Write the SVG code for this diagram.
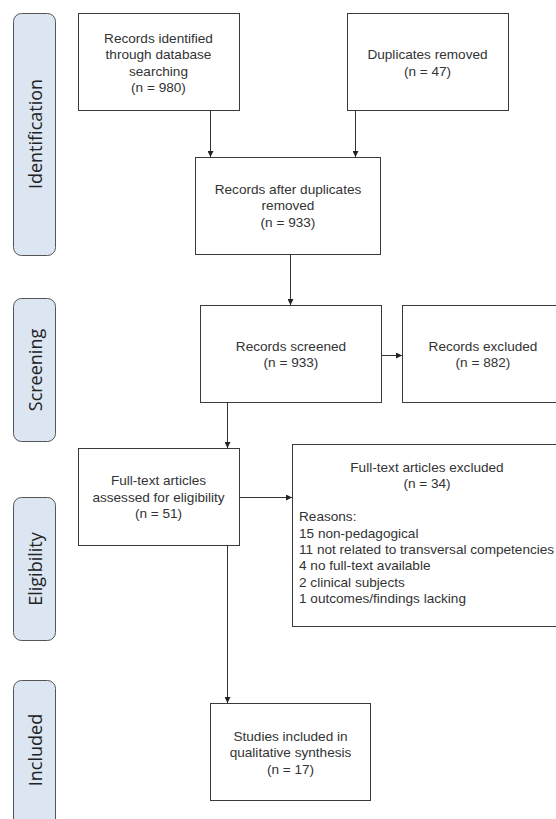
<svg xmlns="http://www.w3.org/2000/svg" width="556" height="819" viewBox="0 0 556 819">
<style>
.box{fill:#fff;stroke:#3a3a3a;stroke-width:1}
.pill{fill:#dce6f2;stroke:#555;stroke-width:1}
.t{font-family:"Liberation Sans",Arial,sans-serif;font-size:13.6px;fill:#333;text-anchor:middle;dominant-baseline:central}
.l{font-family:"Liberation Sans",Arial,sans-serif;font-size:13.6px;fill:#333;dominant-baseline:central}
.p{font-family:"Open Sans","Noto Sans",sans-serif;font-size:18px;fill:#222;text-anchor:middle;dominant-baseline:central}
.c{stroke:#333;stroke-width:1;fill:none;marker-end:url(#ah)}
</style>
<defs>
<marker id="ah" markerWidth="6" markerHeight="6" refX="6" refY="3" orient="auto" markerUnits="userSpaceOnUse">
<path d="M0,0 L6,3 L0,6 Z" fill="#222"/>
</marker>
</defs>
<g id="phase-identification"><rect class="pill" x="13.5" y="13.5" width="42" height="242" rx="8"/><text class="p" transform="translate(35,134) rotate(-90)">Identification</text></g>
<g id="phase-screening"><rect class="pill" x="13.5" y="298.5" width="42" height="143" rx="8"/><text class="p" transform="translate(35,370) rotate(-90)">Screening</text></g>
<g id="phase-eligibility"><rect class="pill" x="13.5" y="497.5" width="42" height="143" rx="8"/><text class="p" transform="translate(35,569) rotate(-90)">Eligibility</text></g>
<g id="phase-included"><rect class="pill" x="13.5" y="680.5" width="42" height="160" rx="8"/><text class="p" transform="translate(35,750) rotate(-90)">Included</text></g>

<g id="records-identified"><rect class="box" x="78.5" y="13.5" width="161" height="97"/>
<text class="t" x="158.5" y="38">Records identified</text><text class="t" x="158.5" y="54.5">through database</text><text class="t" x="158.5" y="71">searching</text><text class="t" x="158.5" y="87.5">(n = 980)</text></g>
<g id="duplicates-removed"><rect class="box" x="347.5" y="13.5" width="161" height="97"/>
<text class="t" x="427.5" y="54">Duplicates removed</text><text class="t" x="427.5" y="71">(n = 47)</text></g>
<g id="records-after-duplicates"><rect class="box" x="195.5" y="157.5" width="185" height="97"/>
<text class="t" x="288" y="189">Records after duplicates</text><text class="t" x="288" y="205.5">removed</text><text class="t" x="288" y="222">(n = 933)</text></g>
<g id="records-screened"><rect class="box" x="200.5" y="305.5" width="181" height="97"/>
<text class="t" x="291" y="346">Records screened</text><text class="t" x="291" y="362.5">(n = 933)</text></g>
<g id="records-excluded"><rect class="box" x="402.5" y="305.5" width="160" height="97"/>
<text class="t" x="483" y="346">Records excluded</text><text class="t" x="483" y="362.5">(n = 882)</text></g>
<g id="fulltext-assessed"><rect class="box" x="78.5" y="448.5" width="161" height="97"/>
<text class="t" x="158.5" y="480.5">Full-text articles</text><text class="t" x="158.5" y="497">assessed for eligibility</text><text class="t" x="158.5" y="513.5">(n = 51)</text></g>
<g id="fulltext-excluded"><rect class="box" x="292.5" y="444.5" width="280" height="182"/>
<text class="t" x="427" y="467">Full-text articles excluded</text><text class="t" x="427" y="483.5">(n = 34)</text>
<text class="l" x="299" y="516.5">Reasons:</text>
<text class="l" x="299" y="533">15 non-pedagogical</text>
<text class="l" x="299" y="549">11 not related to transversal competencies</text>
<text class="l" x="299" y="565.5">4 no full-text  available</text>
<text class="l" x="299" y="582">2 clinical subjects</text>
<text class="l" x="299" y="598">1 outcomes/findings  lacking</text></g>
<g id="studies-included"><rect class="box" x="210.5" y="703.5" width="160" height="97"/>
<text class="t" x="290.5" y="736">Studies included in</text><text class="t" x="290.5" y="752.5">qualitative synthesis</text><text class="t" x="290.5" y="769">(n = 17)</text></g>

<g id="connectors">
<path class="c" d="M210.5,110.5 V157"/>
<path class="c" d="M355.5,110.5 V157"/>
<path class="c" d="M290.5,254.5 V305"/>
<path class="c" d="M381.5,355.5 H402"/>
<path class="c" d="M227.5,402.5 V448"/>
<path class="c" d="M239.5,497.5 H292"/>
<path class="c" d="M227.5,545.5 V703"/>
</g>
</svg>
